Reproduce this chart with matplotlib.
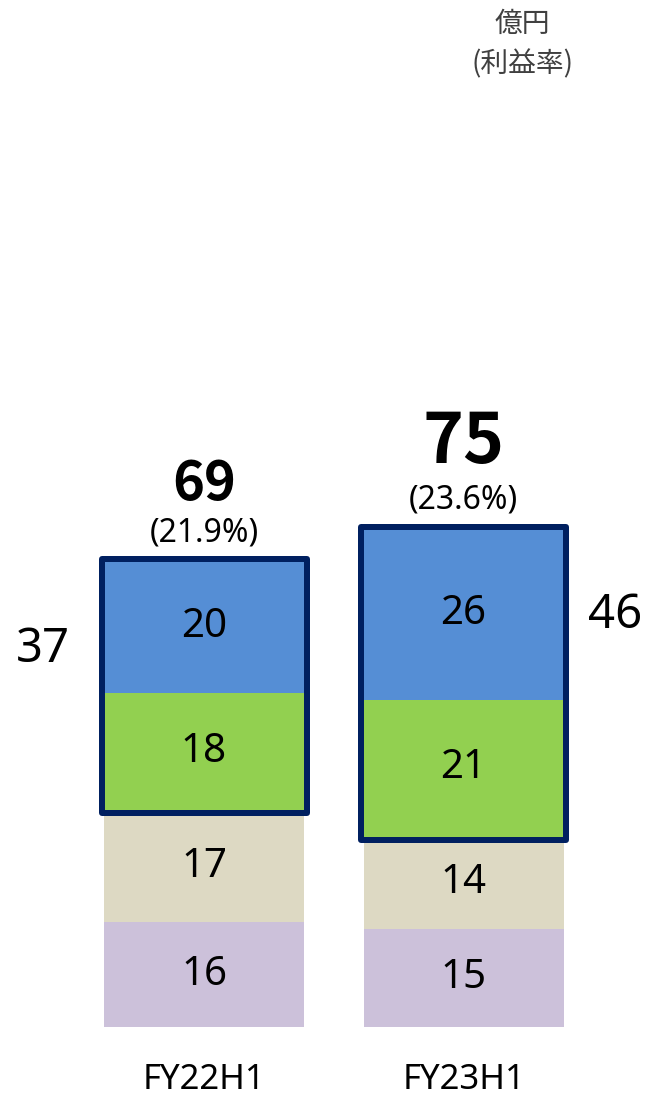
import matplotlib
matplotlib.use("Agg")
import matplotlib.pyplot as plt
from matplotlib.patches import Rectangle

plt.rcParams['font.family'] = ['Noto Sans', 'Noto Sans CJK JP', 'DejaVu Sans']

# ---- data ----
categories = ["FY22H1", "FY23H1"]
seg_purple = [16, 15]
seg_beige = [17, 14]
seg_green = [18, 21]
seg_blue = [20, 26]
totals = [69, 75]
margins = ["(21.9%)", "(23.6%)"]
boxed_totals = [37, 46]
unit_label = "億円\n(利益率)"

# ---- style ----
colors = ["#CCC1DA", "#DDD9C3", "#92D050", "#558ED5"]
box_color = "#002060"
total_sizes = [39, 50]
total_offsets = [48, 57]   # px above margin label

W, H = 649, 1095
DPI = 100
fig = plt.figure(figsize=(W / DPI, H / DPI), dpi=DPI)
ax = fig.add_axes([0, 0, 1, 1])
ax.axis("off")

x0_px, dx_px = 204, 259.5
base_px, s = 1027, 6.55
ax.set_xlim(-x0_px / dx_px, (W - x0_px) / dx_px)
ax.set_ylim(-(H - base_px) / s, base_px / s)

px = 72 / DPI  # points per pixel
xs = list(range(len(categories)))
width = 200 / dx_px

series = [seg_purple, seg_beige, seg_green, seg_blue]
bottoms = [0] * len(xs)
seg_bottoms = []
for vals, c in zip(series, colors):
    ax.bar(xs, vals, width=width, bottom=bottoms, color=c, edgecolor="none", zorder=1)
    seg_bottoms.append(list(bottoms))
    for i, v in enumerate(vals):
        ax.text(xs[i], bottoms[i] + v / 2, str(v), ha="center", va="center",
                fontsize=29, color="black", zorder=3)
    bottoms = [b + v for b, v in zip(bottoms, vals)]

tops = bottoms
pad_x = 2.5 / dx_px
pad_y = 2.5 / s
for i in xs:
    yb = seg_bottoms[2][i]
    yt = tops[i]
    rect = Rectangle((xs[i] - width / 2 - pad_x, yb - pad_y), width + 2 * pad_x,
                     yt - yb + 2 * pad_y, fill=False, edgecolor=box_color,
                     linewidth=6 * px, joinstyle="round", zorder=4)
    ax.add_patch(rect)
    # margin label
    ax.annotate(margins[i], (xs[i], yt), xytext=(0, 29 * px), textcoords="offset points",
                ha="center", va="center", fontsize=23, color="black")
    ax.annotate(str(totals[i]), (xs[i], yt), xytext=(0, (29 + total_offsets[i]) * px),
                textcoords="offset points", ha="center", va="center",
                fontsize=total_sizes[i], fontweight="bold", color="black",
                family=['Noto Sans CJK JP', 'DejaVu Sans'])
    # boxed subtotal beside bar
    if i == 0:
        ax.annotate(str(boxed_totals[i]), (xs[i] - width / 2, yt), xytext=(-61 * px, -88 * px),
                    textcoords="offset points", ha="center", va="center", fontsize=34)
    else:
        ax.annotate(str(boxed_totals[i]), (xs[i] + width / 2, yt), xytext=(52 * px, -86 * px),
                    textcoords="offset points", ha="center", va="center", fontsize=34)
    # category label
    ax.annotate(categories[i], (xs[i], 0), xytext=(0, -53 * px), textcoords="offset points",
                ha="center", va="center", fontsize=25, color="black")

fig.text(522 / W, 1 - 44 / H, unit_label, ha="center", va="center", fontsize=20,
         color="#404040", linespacing=1.45, family=['Noto Sans CJK JP', 'DejaVu Sans'])

fig.savefig("out.png", dpi=DPI)
